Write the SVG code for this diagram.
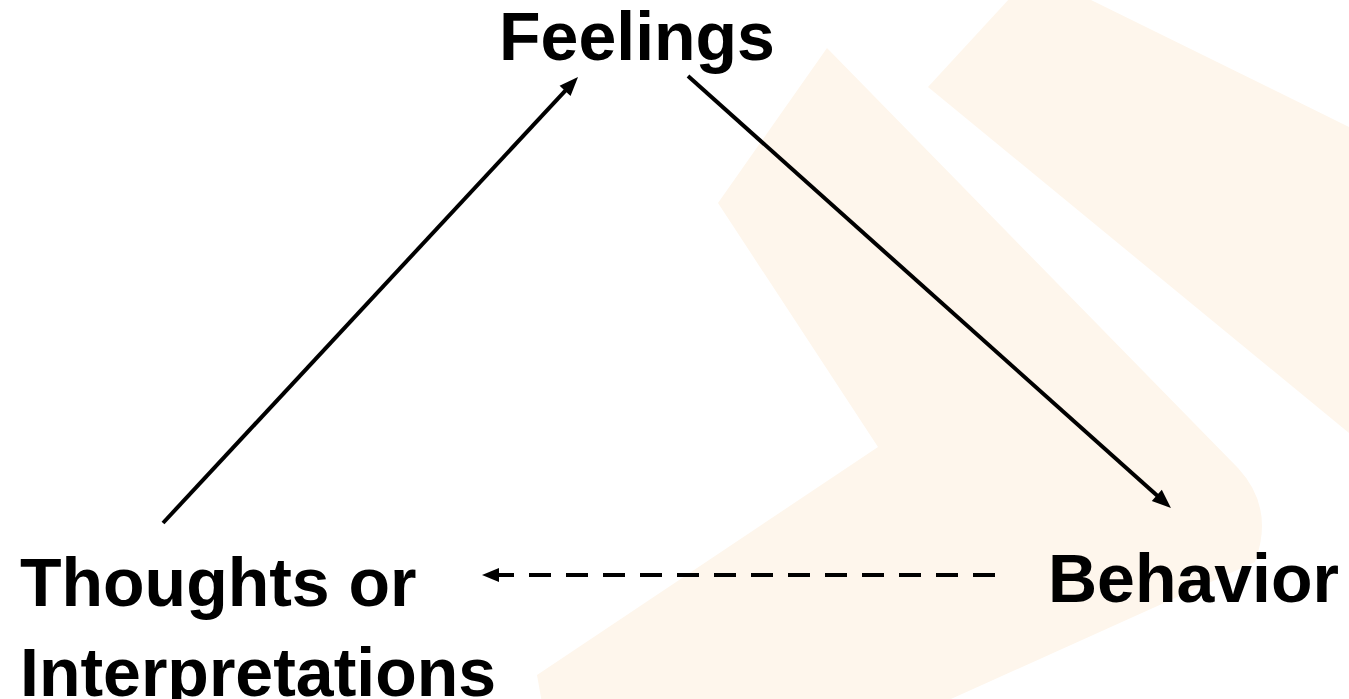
<svg xmlns="http://www.w3.org/2000/svg" width="1349" height="699" viewBox="0 0 1349 699">
  <style>
    .bg { fill: #FEF6EC; stroke: none; }
    .label { font-family: "Liberation Sans", Arial, sans-serif; font-weight: bold; font-size: 68px; fill: #000; }
    .conn { stroke: #000; stroke-width: 4; fill: none; }
    .dashed { stroke-width: 4; stroke-dasharray: 22 15; }
  </style>
  <defs>
    <marker id="arrow" markerUnits="userSpaceOnUse" markerWidth="19" markerHeight="15" refX="9" refY="7.5" orient="auto" overflow="visible">
      <path d="M0,0 L19,7.5 L0,15 Z" fill="#000"/>
    </marker>
    <marker id="arrow-small" markerUnits="userSpaceOnUse" markerWidth="17" markerHeight="14" refX="8" refY="7" orient="auto" overflow="visible">
      <path d="M0,0 L17,7 L0,14 Z" fill="#000"/>
    </marker>
  </defs>
  <rect x="0" y="0" width="1349" height="699" fill="#ffffff"/>
  <g id="background">
    <path class="bg" d="M827,48 L1238,468 Q1275,508 1255,562 L800,767 L545,720 L537,675 L878,447 L718,203 Z"/>
    <path class="bg" d="M928,87 L1010,-2 L1087,-2 L1349,127 L1349,433 Z"/>
  </g>
  <g id="connectors">
    <path class="conn" d="M163,523 L571.2,84.3" marker-end="url(#arrow)"/>
    <path class="conn" d="M688,76 L1163.5,501.3" marker-end="url(#arrow)"/>
    <path class="conn dashed" d="M995,575 L491,575" marker-end="url(#arrow-small)"/>
  </g>
  <g id="node-feelings">
    <text class="label" x="637" y="60" text-anchor="middle">Feelings</text>
  </g>
  <g id="node-thoughts">
    <text class="label"><tspan x="20" y="606">Thoughts or</tspan><tspan x="20" y="696">Interpretations</tspan></text>
  </g>
  <g id="node-behavior">
    <text class="label" x="1339" y="602" text-anchor="end">Behavior</text>
  </g>
</svg>
